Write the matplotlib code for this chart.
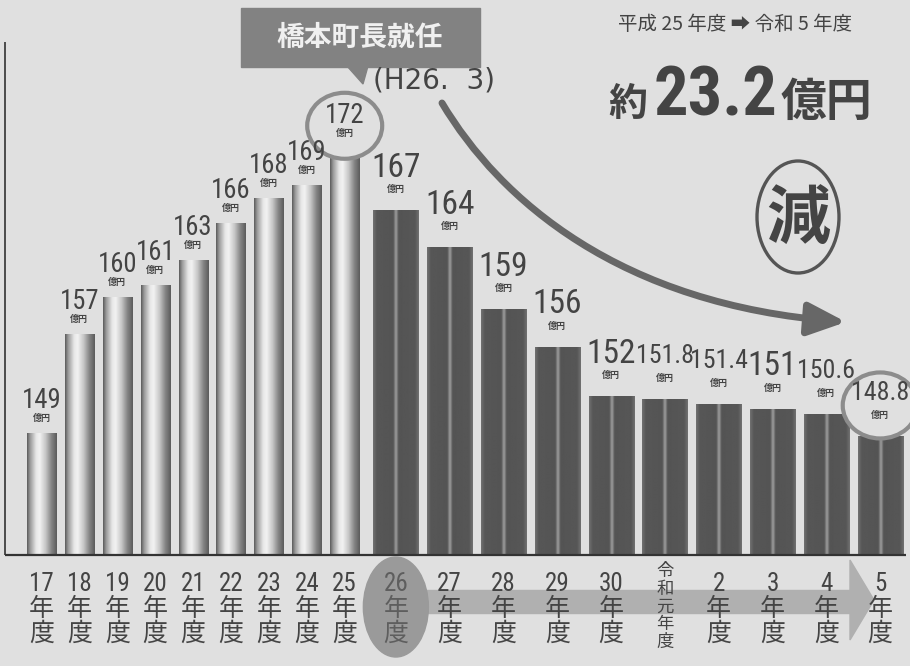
import numpy as np
import matplotlib
matplotlib.use('Agg')
import matplotlib.pyplot as plt
from matplotlib import font_manager
from matplotlib.patches import Ellipse, Rectangle, Polygon, FancyArrowPatch
from matplotlib.path import Path

# 年度と一般会計の規模（億円）
years = ['17', '18', '19', '20', '21', '22', '23', '24', '25',
         '26', '27', '28', '29', '30', '令和元', '2', '3', '4', '5']
amounts = [149, 157, 160, 161, 163, 166, 168, 169, 172,
           167, 164, 159, 156, 152, 151.8, 151.4, 151, 150.6, 148.8]
n_before = 9          # 25年度まで
period_text = '平成 25 年度 ➡ 令和 5 年度'
reduction = 23.2
event_text = '橋本町長就任'
event_date = '(H26.  3)'

CJK = 'Noto Sans CJK JP'
_names = {f.name for f in font_manager.fontManager.ttflist}
_narrow = [n for n in ('Liberation Sans Narrow', 'Roboto Condensed',
                       'Open Sans Condensed', 'Noto Sans Condensed') if n in _names]
NUM = _narrow[0] if _narrow else 'Liberation Sans'
K = 1.2 if _narrow else 1.0   # narrow digits can be set larger
plt.rcParams['font.family'] = [CJK, 'DejaVu Sans']

BG = '#e0e0e0'
INK = '#444444'
W, H = 910, 666

fig = plt.figure(figsize=(W / 100, H / 100), dpi=100, facecolor=BG)

# main axes: bars only, scaled so 1 slot ~ 37.9 px and 1 億円 ~ 12.4 px
BASE = 139.24
SLOT, PX_PER, X0, Y0 = 37.9, 12.4, 41.5, 555
ax = fig.add_axes([0, 0, 1, 1])
ax.axis('off')

idx = np.arange(len(years))
xpos = np.where(idx < n_before, idx * 1.0, 9.35 + (idx - n_before) * 1.42)
widths = np.where(idx < n_before, 0.77, 1.19)

u = np.linspace(0, 1, 80)
silver = np.interp(u, [0, 0.1, 0.3, 0.42, 0.62, 0.82, 1],
                   [0.36, 0.6, 0.9, 0.95, 0.78, 0.52, 0.36])
dark = np.interp(u, [0, 0.08, 0.44, 0.5, 0.56, 0.92, 1],
                 [0.44, 0.34, 0.33, 0.62, 0.33, 0.34, 0.44])

for i, (x, v, w) in enumerate(zip(xpos, amounts, widths)):
    ax.bar(x, v - BASE, width=w, bottom=BASE, color='none', zorder=1)
    prof = silver if i < n_before else dark
    ax.imshow(prof[None, :], cmap='gray', vmin=0, vmax=1, aspect='auto',
              interpolation='bilinear', extent=[x - w / 2, x + w / 2, BASE, v],
              zorder=2)
ax.set_xlim(-X0 / SLOT, (W - X0) / SLOT)
ax.set_ylim(BASE - (H - Y0) / PX_PER, BASE + Y0 / PX_PER)


def to_px(x, y):
    px, py = ax.transData.transform((x, y))
    return px, H - py


# overlay in pixel coordinates for labels and decorations
deco = fig.add_axes([0, 0, 1, 1], zorder=3)
deco.set_xlim(0, W)
deco.set_ylim(H, 0)
deco.axis('off')

# axis lines
deco.plot([5, 5], [42, Y0], color='#333333', lw=1.2, solid_capstyle='butt')
deco.plot([5, 906], [Y0, Y0], color='#333333', lw=1.6, solid_capstyle='butt')

# bottom timeline arrow from 26年度
c26, _ = to_px(xpos[n_before], BASE)
deco.add_patch(Rectangle((c26 + 25, 590), 852 - c26 - 25, 23, color='#b0b0b0', zorder=1))
deco.add_patch(Polygon([(850, 560), (850, 640), (874, 600)], closed=True,
                       color='#b0b0b0', zorder=1))
deco.add_patch(Ellipse((c26, 607), 65, 100, color='#9a9a9a', zorder=2))

# year labels
for i, (x, y) in enumerate(zip(xpos, years)):
    cx, _ = to_px(x, BASE)
    col = '#5e5e5e' if i == n_before else INK
    if y == '令和元':
        deco.text(cx, 562, '\n'.join(y + '年度'), ha='center', va='top',
                  fontsize=12.5, linespacing=0.98, color=col, family=[CJK], zorder=4)
    else:
        deco.text(cx, 572, f'{y}\n年\n度', ha='center', va='top', fontsize=18,
                  linespacing=1.05, color=col, family=[NUM, CJK], zorder=4)

# value labels
for i, (x, v) in enumerate(zip(xpos, amounts)):
    cx, top = to_px(x, v)
    txt = f'{v:g}'
    if i < n_before:
        ny, yy, fs = top - 33, top - 15, 16 * K
    else:
        ny, yy, fs = top - 43, top - 21, (20 if len(txt) == 3 else 15.5) * K
    if v in (max(amounts), amounts[-1]):
        deco.add_patch(Ellipse((cx, (ny + yy) / 2 + 1), 75, 66, facecolor=BG,
                               edgecolor='#8c8c8c', lw=3, zorder=3))
    deco.text(cx, ny, txt, ha='center', va='center', fontsize=fs, color=INK,
              family=[NUM, CJK], zorder=4)
    deco.text(cx, yy, '億円', ha='center', va='center', fontsize=6.5,
              color=INK, fontweight='bold', family=[CJK], zorder=4)

# event callout
deco.add_patch(Rectangle((241, 8), 239, 59, color='#828282', zorder=2))
deco.add_patch(Polygon([(347, 66), (368, 66), (363, 84)], closed=True,
                       color='#828282', zorder=2))
deco.text(360, 38, event_text, ha='center', va='center', fontsize=20,
          color='#f0f0f0', fontweight='bold', zorder=4)
deco.text(434, 80, event_date, ha='center', va='center', fontsize=20,
          color=INK, family=['DejaVu Sans'], zorder=4)

# downward trend arrow
curve = Path([(442, 103), (500, 200), (620, 305), (846, 322)],
             [Path.MOVETO, Path.CURVE4, Path.CURVE4, Path.CURVE4])
deco.add_patch(FancyArrowPatch(path=curve,
                               arrowstyle='-|>,head_length=1.15,head_width=0.5',
                               mutation_scale=20, color='#676767', lw=5, zorder=3))

# headline
deco.text(735, 24, period_text, ha='center', va='center', fontsize=14,
          color=INK, family=[CJK, 'DejaVu Sans'], zorder=4)
deco.text(628, 116, '約', ha='center', va='baseline', fontsize=28,
          color=INK, fontweight='bold', zorder=4)
deco.text(716, 115, f'{reduction}', ha='center', va='baseline', fontsize=41 * K,
          color=INK, fontweight='bold', family=[NUM, CJK], zorder=4)
deco.text(872, 116, '億円', ha='right', va='baseline', fontsize=33,
          color=INK, fontweight='bold', zorder=4)

# 減 stamp
deco.add_patch(Ellipse((798, 217), 82, 112, facecolor='none',
                       edgecolor='#555555', lw=2.4, zorder=3))
deco.text(798, 220, '減', ha='center', va='center', fontsize=46,
          color=INK, fontweight='bold', zorder=4)

fig.savefig('out.png', dpi=100, facecolor=BG)
